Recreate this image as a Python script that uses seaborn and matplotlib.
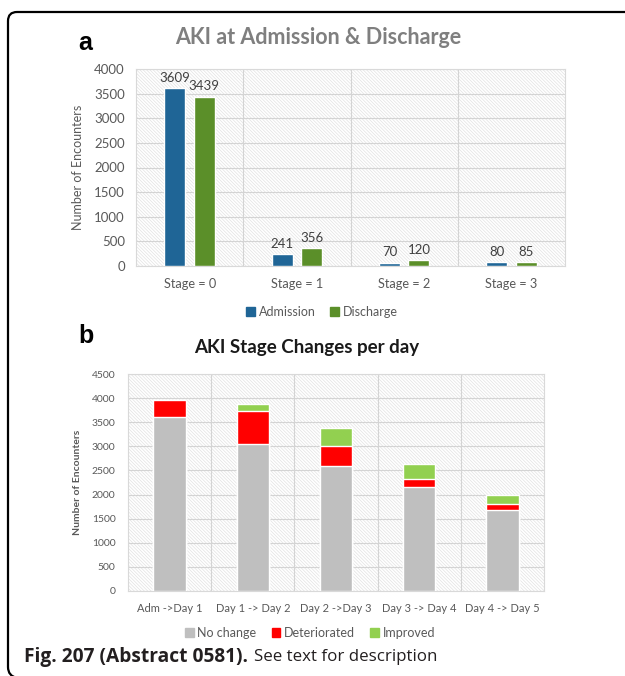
import numpy as np
import pandas as pd
import matplotlib
matplotlib.use("Agg")
import matplotlib.pyplot as plt
from matplotlib.patches import Rectangle, Patch
from matplotlib.path import Path
from matplotlib.patches import PathPatch
import seaborn as sns

# ---------------- data ----------------
stages = ["Stage = 0", "Stage = 1", "Stage = 2", "Stage = 3"]
admission = [3609, 241, 70, 80]
discharge = [3439, 356, 120, 85]

transitions = ["Adm ->Day 1", "Day 1 -> Day 2", "Day 2 ->Day 3", "Day 3 -> Day 4", "Day 4 -> Day 5"]
no_change = [3610, 3050, 2600, 2150, 1690]
deteriorated = [360, 680, 400, 180, 110]
improved = [0, 140, 380, 300, 200]

sns.set_theme(style="white")
plt.rcParams["font.family"] = ["Lato", "DejaVu Sans"]
plt.rcParams["hatch.linewidth"] = 0.5

W, H = 625, 676
fig = plt.figure(figsize=(W / 100, H / 100), dpi=100)
fig.patch.set_facecolor("white")


def fx(px):
    return px / W


def fy(py):
    return 1 - py / H


def style_area(ax, ncat):
    ax.set_facecolor("white")
    bg = Rectangle((0, 0), 1, 1, transform=ax.transAxes, facecolor="white",
                   edgecolor="#e2e2e2", hatch="\\" * 10, lw=0, zorder=0)
    ax.add_patch(bg)
    for s in ax.spines.values():
        s.set_visible(True)
        s.set_color("#d9d9d9")
        s.set_linewidth(0.8)
    ax.set_xlim(-0.5, ncat - 0.5)
    ax.set_xticks(np.arange(ncat - 1) + 0.5, minor=True)
    ax.grid(True, which="major", axis="y", color="#d4d4d4", lw=0.8)
    ax.grid(True, which="minor", axis="x", color="#d4d4d4", lw=0.8)
    ax.set_axisbelow(True)
    ax.tick_params(axis="both", which="both", length=0)


# ---------------- panel a ----------------
axa = fig.add_axes([fx(136), fy(266), fx(565) - fx(136), fy(69) - fy(266)])
dfa = pd.DataFrame({
    "Stage": stages * 2,
    "Encounters": admission + discharge,
    "Series": ["Admission"] * len(stages) + ["Discharge"] * len(stages),
})
sns.barplot(data=dfa, x="Stage", y="Encounters", hue="Series",
            palette={"Admission": "#1f6596", "Discharge": "#5b8f29"},
            width=0.55, gap=0.28, ax=axa, legend=False, saturation=1, zorder=3)
style_area(axa, len(stages))
axa.set_ylim(0, 4000)
axa.set_yticks(np.arange(0, 4001, 500))
axa.tick_params(axis="y", labelsize=9.5, labelcolor="#595959", pad=8)
axa.tick_params(axis="x", labelsize=9.2, labelcolor="#595959", pad=9)
axa.set_xlabel("")
axa.set_ylabel("Number of Encounters", fontsize=9, color="#595959")
axa.yaxis.set_label_coords(-0.121, 0.5)
for c in axa.containers:
    axa.bar_label(c, fontsize=9.5, color="#404040", padding=3)
fig.text(fx(318), fy(38), "AKI at Admission & Discharge", ha="center", va="center",
         fontsize=15.5, fontweight="bold", color="#7f7f7f")
fig.text(fx(78), fy(43), "a", ha="left", va="center", fontsize=18, fontweight="bold",
         color="black", family=["Liberation Sans", "DejaVu Sans"])
axa.legend(handles=[Patch(color="#1f6596", label="Admission"),
                    Patch(color="#5b8f29", label="Discharge")],
           loc="center", bbox_to_anchor=(fx(322), fy(312)), bbox_transform=fig.transFigure,
           ncol=2, frameon=False, fontsize=9, handlelength=0.7, handleheight=0.7,
           handletextpad=0.3, columnspacing=1.2, labelcolor="#595959")

# ---------------- panel b ----------------
axb = fig.add_axes([fx(128), fy(591), fx(544) - fx(128), fy(374) - fy(591)])
nc = np.array(no_change)
dt = np.array(deteriorated)
im = np.array(improved)
dfb = pd.DataFrame({
    "Transition": transitions,
    "total": nc + dt + im,
    "nc_dt": nc + dt,
    "nc": nc,
})
sns.barplot(data=dfb, x="Transition", y="total", color="#92d050", saturation=1,
            width=0.39, ax=axb, zorder=3)
sns.barplot(data=dfb, x="Transition", y="nc_dt", color="#ff0000", saturation=1,
            width=0.39, ax=axb, zorder=3)
sns.barplot(data=dfb, x="Transition", y="nc", color="#bfbfbf", saturation=1,
            width=0.39, ax=axb, zorder=3)
style_area(axb, len(transitions))
axb.set_ylim(0, 4500)
axb.set_yticks(np.arange(0, 4501, 500))
axb.tick_params(axis="y", labelsize=7.5, labelcolor="#595959", pad=9)
axb.tick_params(axis="x", labelsize=8, labelcolor="#595959", pad=9)
axb.set_xlabel("")
axb.set_ylabel("Number of Encounters", fontsize=7.5, fontweight="bold", color="#595959")
axb.yaxis.set_label_coords(-0.11, 0.5)
fig.text(fx(307), fy(347), "AKI Stage Changes per day", ha="center", va="center",
         fontsize=13.5, fontweight="bold", color="#1a1a1a")
fig.text(fx(78), fy(336), "b", ha="left", va="center", fontsize=18, fontweight="bold",
         color="black", family=["Liberation Sans", "DejaVu Sans"])
axb.legend(handles=[Patch(color="#bfbfbf", label="No change"),
                    Patch(color="#ff0000", label="Deteriorated"),
                    Patch(color="#92d050", label="Improved")],
           loc="center", bbox_to_anchor=(fx(310), fy(633)), bbox_transform=fig.transFigure,
           ncol=3, frameon=False, fontsize=9, handlelength=0.7, handleheight=0.7,
           handletextpad=0.3, columnspacing=1.2, labelcolor="#595959")

# ---------------- frame ----------------
r = 9
verts = [(fx(625), fy(12)), (fx(8 + r), fy(12)), (fx(8), fy(12)), (fx(8), fy(12 + r)),
         (fx(8), fy(676 - r)), (fx(8), fy(676)), (fx(8 + r), fy(676 + 2))]
codes = [Path.MOVETO, Path.LINETO, Path.CURVE3, Path.CURVE3, Path.LINETO, Path.CURVE3, Path.CURVE3]
fig.add_artist(PathPatch(Path(verts, codes), transform=fig.transFigure, fill=False,
                         edgecolor="black", lw=1.6))

# ---------------- caption ----------------
t1 = fig.text(fx(24), fy(657), "Fig. 207 (Abstract 0581).", ha="left", va="center",
              fontsize=13.8, fontweight="bold", color="#231f20",
              family=["Open Sans", "DejaVu Sans"])
fig.canvas.draw()
bb = t1.get_window_extent()
fig.text(bb.x1 / W + fx(6), fy(657), "See text for description", ha="left", va="center",
         fontsize=12.2, color="#231f20", family=["Open Sans", "DejaVu Sans"])

fig.savefig("out.png", dpi=100, facecolor="white")
